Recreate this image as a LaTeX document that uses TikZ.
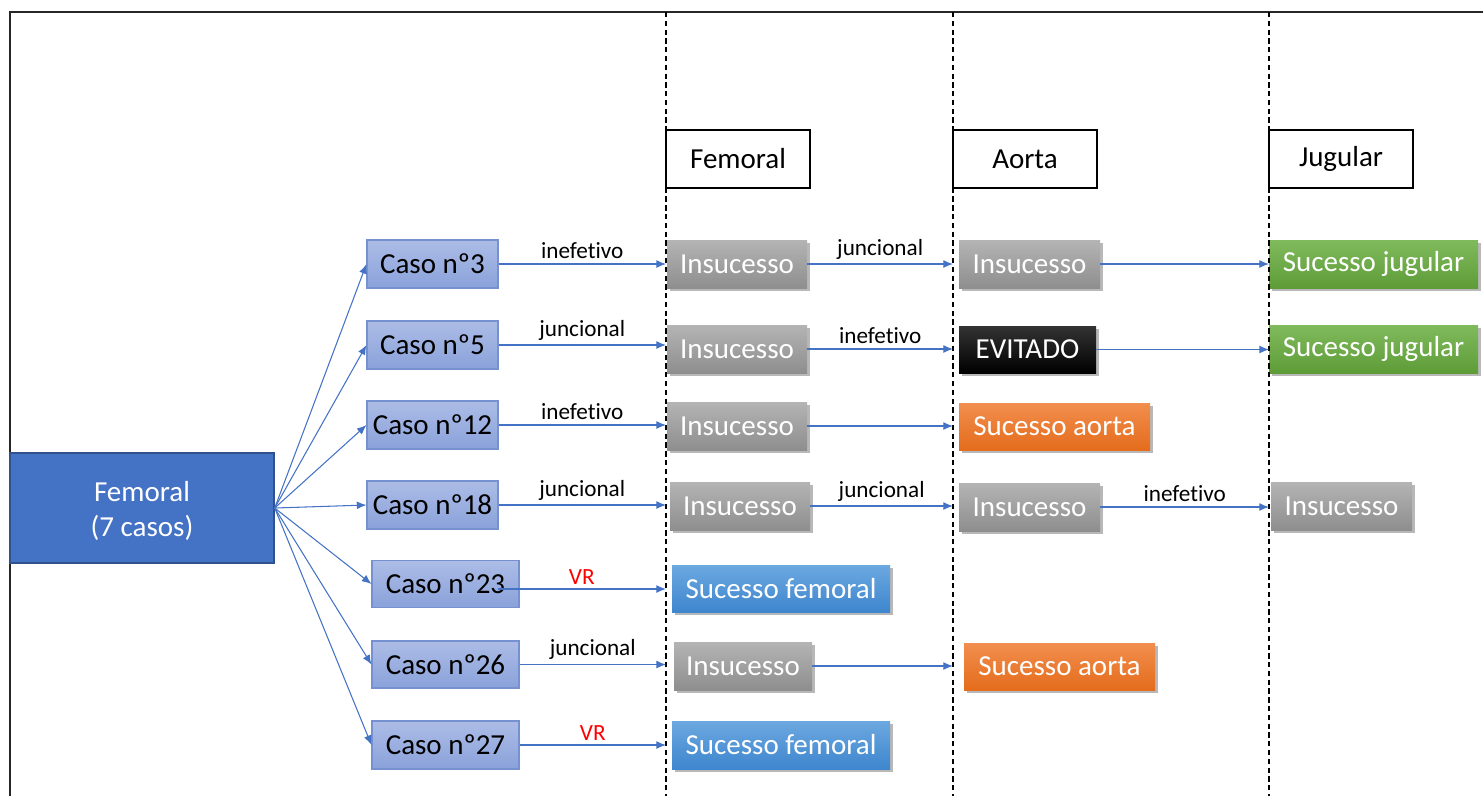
\documentclass[tikz,border=0pt]{standalone}
\usepackage{fontspec}
\setmainfont{Carlito}[Ligatures={NoCommon,NoContextual}]
\usetikzlibrary{arrows.meta,shadows}
\definecolor{arr}{RGB}{68,114,196}
\definecolor{mainblue}{RGB}{68,114,196}
\definecolor{mainbd}{RGB}{47,82,143}
\definecolor{casetop}{RGB}{172,188,230}
\definecolor{casebot}{RGB}{138,162,218}
\definecolor{casebd}{RGB}{118,145,208}
\definecolor{greytop}{RGB}{180,180,180}
\definecolor{greybot}{RGB}{142,142,142}
\definecolor{bluetop}{RGB}{108,168,224}
\definecolor{bluebot}{RGB}{62,134,206}
\definecolor{ortop}{RGB}{242,142,78}
\definecolor{orbot}{RGB}{228,108,28}
\definecolor{grtop}{RGB}{128,186,92}
\definecolor{grbot}{RGB}{94,156,56}
\tikzset{
  x=0.02cm, y=-0.02cm,
  bigtxt/.style={font=\fontsize{16.5}{19.5}\selectfont},
  smalltxt/.style={font=\fontsize{13.2}{15}\selectfont},
  mainbox/.style={bigtxt, fill=mainblue, draw=mainbd, line width=0.8pt, text=white, align=center, inner sep=0pt},
  casebox/.style={bigtxt, top color=casetop, bottom color=casebot, draw=casebd, line width=0.6pt, text=black, inner sep=0pt},
  shbox/.style={bigtxt, text=white, inner sep=0pt, drop shadow={shadow xshift=1.6pt, shadow yshift=-1.6pt, opacity=0.28, fill=black}},
  greybox/.style={shbox, top color=greytop, bottom color=greybot},
  bluebox/.style={shbox, top color=bluetop, bottom color=bluebot},
  orbox/.style={shbox, top color=ortop, bottom color=orbot},
  grbox/.style={shbox, top color=grtop, bottom color=grbot},
  blkbox/.style={shbox, top color=black!80, bottom color=black},
  headbox/.style={bigtxt, draw=black, line width=0.8pt, fill=white, text=black, inner sep=0pt},
  conn/.style={draw=arr, line width=0.6pt, -{Latex[length=5.5pt,width=4.5pt]}},
  lbl/.style={smalltxt, text=black, above, inner sep=2.5pt},
  lblred/.style={smalltxt, text=red, above, inner sep=2.5pt},
  divline/.style={draw=black, line width=0.9pt, dash pattern=on 3pt off 2pt},
}
\begin{document}
\begin{tikzpicture}
\useasboundingbox (0,0) rectangle (1483,796);
% frame
\draw[line width=1.5pt, black!85] (10,796) -- (10,12) -- (1483,12);

% divider coordinates
\coordinate (d1t) at (666,12);
\coordinate (d1b) at (666,796);
\coordinate (d2t) at (953,12);
\coordinate (d2b) at (953,796);
\coordinate (d3t) at (1269,12);
\coordinate (d3b) at (1269,796);

% headers
\node[headbox, minimum width=144*0.02cm, minimum height=58*0.02cm] (hf) at (738,159) {Femoral};
\node[headbox, minimum width=144*0.02cm, minimum height=58*0.02cm] (ha) at (1025,159) {Aorta};
\node[headbox, minimum width=144*0.02cm, minimum height=58*0.02cm] (hj) at (1341,159) {Jugular};

% main box
\node[mainbox, minimum width=264*0.02cm, minimum height=110*0.02cm] (main) at (142,508) {};
\node[bigtxt, text=white, align=center, inner sep=0pt] (maint) at (142,511) {Femoral\\(7 casos)};

% case boxes
\node[casebox, minimum width=131*0.02cm, minimum height=48*0.02cm] (c3) at (432.5,264) {Caso nº3};
\node[casebox, minimum width=131*0.02cm, minimum height=48*0.02cm] (c5) at (432.5,345) {Caso nº5};
\node[casebox, minimum width=131*0.02cm, minimum height=48*0.02cm] (c12) at (432.5,425) {Caso nº12};
\node[casebox, minimum width=131*0.02cm, minimum height=48*0.02cm] (c18) at (432.5,505) {Caso nº18};
\node[casebox, minimum width=147*0.02cm, minimum height=47*0.02cm] (c23) at (445.5,584) {Caso nº23};
\node[casebox, minimum width=147*0.02cm, minimum height=47*0.02cm] (c26) at (445.5,664.5) {Caso nº26};
\node[casebox, minimum width=147*0.02cm, minimum height=48*0.02cm] (c27) at (445.5,745) {Caso nº27};

% level 1
\node[greybox, minimum width=140*0.02cm, minimum height=48*0.02cm] (a3) at (737,264) {Insucesso};
\node[greybox, minimum width=140*0.02cm, minimum height=48*0.02cm] (a5) at (737,349) {Insucesso};
\node[greybox, minimum width=140*0.02cm, minimum height=48*0.02cm] (a12) at (737,426) {Insucesso};
\node[greybox, minimum width=140*0.02cm, minimum height=48*0.02cm] (a18) at (740,506) {Insucesso};
\node[bluebox, minimum width=218*0.02cm, minimum height=47*0.02cm] (a23) at (781,588.5) {Sucesso femoral};
\node[greybox, minimum width=138*0.02cm, minimum height=48*0.02cm] (a26) at (743,666) {Insucesso};
\node[bluebox, minimum width=218*0.02cm, minimum height=48*0.02cm] (a27) at (781,745) {Sucesso femoral};

% level 2
\node[greybox, minimum width=141*0.02cm, minimum height=48*0.02cm] (b3) at (1029.5,264) {Insucesso};
\node[blkbox, minimum width=137*0.02cm, minimum height=47*0.02cm] (b5) at (1027.5,349.5) {EVITADO};
\node[orbox, minimum width=191*0.02cm, minimum height=47*0.02cm] (b12) at (1054.5,426.5) {Sucesso aorta};
\node[greybox, minimum width=141*0.02cm, minimum height=48*0.02cm] (b18) at (1029.5,507) {Insucesso};
\node[orbox, minimum width=191*0.02cm, minimum height=47*0.02cm] (b26) at (1059.5,666.5) {Sucesso aorta};

% level 3
\node[grbox, minimum width=209*0.02cm, minimum height=48*0.02cm] (j3) at (1373.5,264) {Sucesso jugular};
\node[grbox, minimum width=209*0.02cm, minimum height=48*0.02cm] (j5) at (1373.5,349) {Sucesso jugular};
\node[greybox, minimum width=141*0.02cm, minimum height=48*0.02cm] (j18) at (1341.5,506) {Insucesso};

% divider lines
\draw[divline] (d1t) -- (d1b);
\draw[divline] (d2t) -- (d2b);
\draw[divline] (d3t) -- (d3b);

% main to cases
\foreach \c in {c3,c5,c12,c18,c23,c26,c27}
  \draw[conn] (main.east) -- (\c.west);

% cases to level 1
\draw[conn] (c3.east) -- (c3.east -| d1t) node[lbl, midway] {inefetivo};
\draw[conn] (c5.east) -- (c5.east -| d1t) node[lbl, midway] {juncional};
\draw[conn] (c12.east) -- (c12.east -| d1t) node[lbl, midway] {inefetivo};
\draw[conn] (c18.east) -- (c18.east -| d1t) node[lbl, midway] {juncional};
\draw[conn] ([xshift=-22*0.02cm, yshift=-5*0.02cm]c23.east) -- ([yshift=-5*0.02cm]c23.east -| d1t) node[lblred, midway] {VR};
\draw[conn] (c26.east) -- (c26.east -| d1t) node[lbl, midway] {juncional};
\draw[conn] (c27.east) -- (c27.east -| d1t) node[lblred, midway] {VR};

% level 1 to level 2
\draw[conn] (a3.east) -- (a3.east -| d2t) node[lbl, midway] {juncional};
\draw[conn] (a5.east) -- (a5.east -| d2t) node[lbl, midway] {inefetivo};
\draw[conn] (a12.east) -- (a12.east -| d2t);
\draw[conn] (a18.east) -- (a18.east -| d2t) node[lbl, midway] {juncional};
\draw[conn] (a26.east) -- (a26.east -| d2t);

% level 2 to level 3
\draw[conn] (b3.east) -- (b3.east -| d3t);
\draw[conn] (b5.east) -- (b5.east -| d3t);
\draw[conn] (b18.east) -- (b18.east -| d3t) node[lbl, midway] {inefetivo};
\end{tikzpicture}
\end{document}
